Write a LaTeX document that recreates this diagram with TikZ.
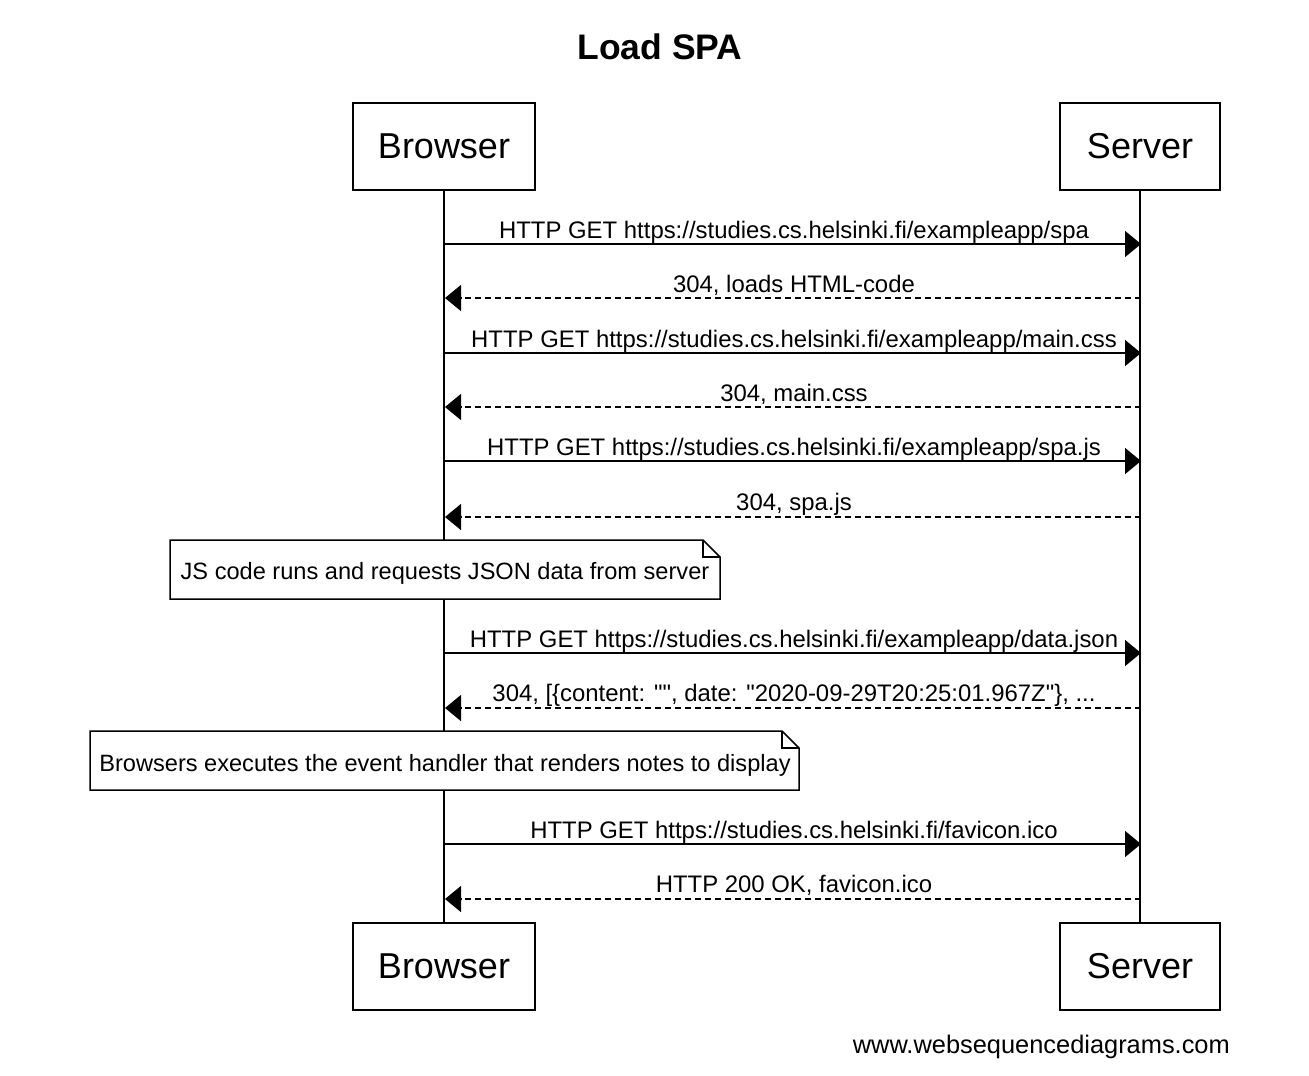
\documentclass[tikz,border=0pt]{standalone}
\usepackage{fontspec}
\setmainfont{Liberation Sans}[Ligatures=TeXOff]
\usetikzlibrary{arrows.meta}
\begin{document}
\begin{tikzpicture}[x=1pt,y=-1pt,
  actor/.style={draw, line width=1.6pt, inner sep=0pt, minimum height=87pt, font=\fontsize{36}{40}\selectfont},
  life/.style={line width=1.8pt},
  msg/.style={line width=1.5pt, -{Triangle[length=16pt,width=26pt]}},
  reply/.style={msg, dash pattern=on 6pt off 4pt},
  lbl/.style={anchor=base, inner sep=0pt, font=\fontsize{23.9}{28}\selectfont},
  notetext/.style={anchor=base, inner sep=0pt, font=\fontsize{23.6}{28}\selectfont},
  notebox/.style={draw, fill=white, line width=1.5pt, line join=miter}
]
\useasboundingbox (0,0) rectangle (1309,1076);
% title
\node[anchor=base, inner sep=0pt, font=\fontsize{35.5}{40}\selectfont\bfseries] (title) at (660,59) {Load SPA};
% actors
\node[actor, minimum width=182pt] (bt) at (444,146.5) {Browser};
\node[actor, minimum width=160pt] (st) at (1140,146.5) {Server};
\node[actor, minimum width=182pt] (bb) at (444,966.5) {Browser};
\node[actor, minimum width=160pt] (sb) at (1140,966.5) {Server};
% lifelines
\draw[life] (bt.south) -- (bb.north);
\draw[life] (st.south) -- (sb.north);
% message coordinates
\foreach \i/\y in {1/244,2/298,3/353,4/407,5/461,6/517,7/653,8/708,9/844,10/899}{
  \coordinate (b\i) at (445,\y);
  \coordinate (s\i) at (1141,\y);
}
% messages
\draw[msg] (b1) -- (s1);
\node[lbl] (l1) at (794,238) {HTTP GET https://studies.cs.helsinki.fi/exampleapp/spa};
\draw[reply] (s2) -- (b2);
\node[lbl] (l2) at (794,292) {304, loads HTML-code};
\draw[msg] (b3) -- (s3);
\node[lbl] (l3) at (794,347) {HTTP GET https://studies.cs.helsinki.fi/exampleapp/main.css};
\draw[reply] (s4) -- (b4);
\node[lbl] (l4) at (794,401) {304, main.css};
\draw[msg] (b5) -- (s5);
\node[lbl] (l5) at (794,455) {HTTP GET https://studies.cs.helsinki.fi/exampleapp/spa.js};
\draw[reply] (s6) -- (b6);
\node[lbl] (l6) at (794,510) {304, spa.js};
% note 1
\draw[notebox] (170,540) -- (703,540) -- (720,557) -- (720,599) -- (170,599) -- cycle;
\draw[line width=1.5pt] (703,540) -- (703,557) -- (720,557);
\node[notetext] (n1) at (445,579) {JS code runs and requests JSON data from server};
\draw[msg] (b7) -- (s7);
\node[lbl] (l7) at (794,647) {HTTP GET https://studies.cs.helsinki.fi/exampleapp/data.json};
\draw[reply] (s8) -- (b8);
\node[lbl] (l8) at (794,701) {304, [\{content: "", date: "2020-09-29T20:25:01.967Z"\}, ...};
% note 2
\draw[notebox] (90,731) -- (782,731) -- (799,748) -- (799,790) -- (90,790) -- cycle;
\draw[line width=1.5pt] (782,731) -- (782,748) -- (799,748);
\node[notetext] (n2) at (445,771) {Browsers executes the event handler that renders notes to display};
\draw[msg] (b9) -- (s9);
\node[lbl] (l9) at (794,838) {HTTP GET https://studies.cs.helsinki.fi/favicon.ico};
\draw[reply] (s10) -- (b10);
\node[lbl] (l10) at (794,892) {HTTP 200 OK, favicon.ico};
% footer
\node[anchor=base east, inner sep=0pt, font=\fontsize{25.4}{30}\selectfont] (foot) at (1230,1053) {www.websequencediagrams.com};
\end{tikzpicture}
\end{document}
